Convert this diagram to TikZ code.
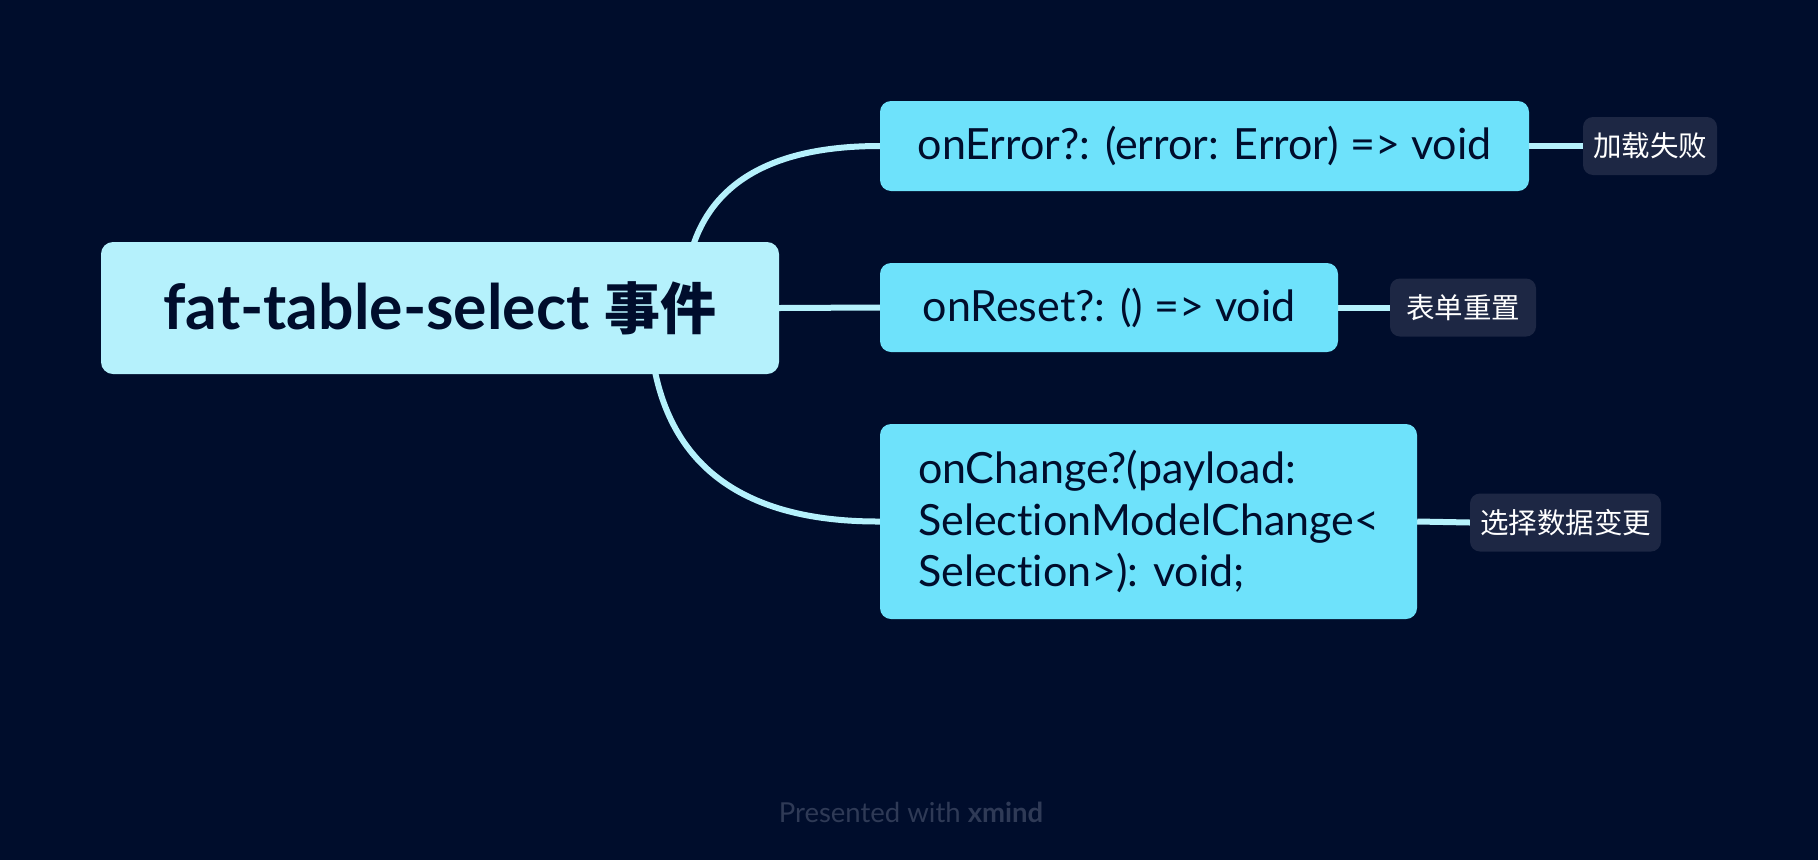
\documentclass[tikz,border=0pt]{standalone}
\usepackage{fontspec}
\setmainfont{Lato}[Ligatures=NoCommon]
\newfontfamily\cjk{Noto Sans CJK SC}
\usetikzlibrary{backgrounds}
\definecolor{bgcol}{HTML}{000D2C}
\definecolor{rootfill}{HTML}{B5F1FC}
\definecolor{childfill}{HTML}{6EE2FB}
\definecolor{tagfill}{HTML}{1D2744}
\definecolor{ink}{HTML}{000D2C}
\definecolor{wirecol}{HTML}{B5F1FC}
\definecolor{footcol}{HTML}{2F3A56}
\begin{document}
\begin{tikzpicture}[x=1pt,y=-1pt,
 rootbox/.style={fill=rootfill, rounded corners=12pt, minimum width=678pt, minimum height=132pt, inner sep=0pt, text=ink, font=\fontsize{62.5}{70}\selectfont\bfseries},
 childbox/.style={fill=childfill, rounded corners=11pt, inner sep=0pt, text=ink, font=\fontsize{43}{51.5}\selectfont},
 tagbox/.style={fill=tagfill, rounded corners=10pt, inner sep=0pt, minimum height=58pt, text=white, font=\cjk\fontsize{28.5}{32}\selectfont},
 wirestyle/.style={draw=wirecol, line width=6pt}]
\useasboundingbox (0,0) rectangle (1818,860);
\node[rootbox] (root) at (440,308) {fat-table-select {\cjk\bfseries\fontsize{56}{60}\selectfont 事件}};
\node[childbox, minimum width=649pt, minimum height=90pt] (error) at (1204.5,146) {onError?: (error: Error) => void};
\node[childbox, minimum width=458pt, minimum height=89pt] (reset) at (1109,307.5) {onReset?: () => void};
\node[childbox, minimum width=537pt, minimum height=195pt, align=left] (change) at (1148.5,521.5) {onChange?(payload:\\SelectionModelChange<\\Selection>): void;};
\node[tagbox, minimum width=134pt] (t1) at (1650,146) {加载失败};
\node[tagbox, minimum width=146pt] (t2) at (1463,307.5) {表单重置};
\node[tagbox, minimum width=191pt] (t3) at (1565.5,522.5) {选择数据变更};
\node[text=footcol, font=\fontsize{27.5}{32}\selectfont] (foot) at (911,812) {Presented with \textbf{xmind}};
\coordinate (us) at (684,308);
\coordinate (ls) at (649,308);
\begin{scope}[on background layer]
\fill[bgcol] (0,0) rectangle (1818,860);
\draw[wirestyle] (us) .. controls (684,200) and (749,146) .. (error.west);
\draw[wirestyle] (ls) .. controls (649,451) and (726,522) .. (change.west);
\draw[wirestyle] (root.east) -- (reset.west);
\draw[wirestyle] (error.east) -- (t1.west);
\draw[wirestyle] (reset.east) -- (t2.west);
\draw[wirestyle] (change.east) -- (t3.west);
\end{scope}
\end{tikzpicture}
\end{document}
